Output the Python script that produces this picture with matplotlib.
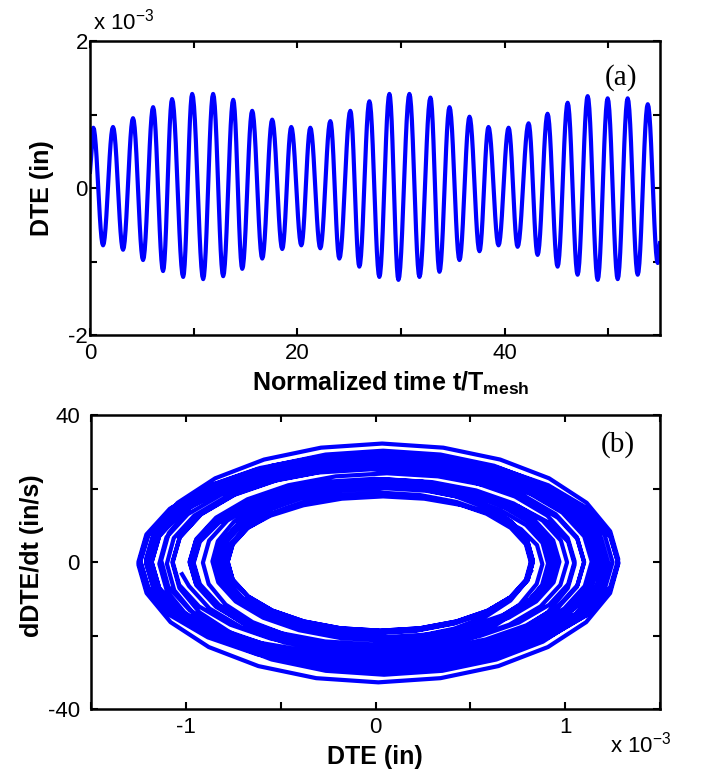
import numpy as np
import matplotlib
matplotlib.use("Agg")
import matplotlib.pyplot as plt

plt.rcParams["font.family"] = ["Liberation Sans", "DejaVu Sans"]
plt.rcParams["mathtext.fontset"] = "custom"
plt.rcParams["mathtext.rm"] = "Liberation Sans"
plt.rcParams["mathtext.bf"] = "Liberation Sans:bold"

# ---- values (DTE in units of 1e-3 in, time in t/T_mesh) ----
peak_t = [0.32, 2.22, 4.15, 6.09, 7.92, 9.86, 11.88, 13.82, 15.65, 17.58,
          19.42, 21.26, 23.19, 25.12, 26.96, 28.89, 30.82, 32.85, 34.69, 36.62,
          38.45, 40.39, 42.32, 44.15, 46.09, 48.02, 49.95, 51.88, 53.82]
peak_v = [0.82, 0.83, 0.95, 1.10, 1.21, 1.28, 1.28, 1.20, 1.05, 0.93,
          0.83, 0.82, 0.91, 1.05, 1.18, 1.28, 1.28, 1.23, 1.10, 0.97,
          0.83, 0.82, 0.88, 1.01, 1.16, 1.25, 1.22, 1.22, 1.14]
trough_t = [1.26, 3.19, 5.12, 7.05, 8.99, 10.92, 12.85, 14.69, 16.62, 18.55,
            20.39, 22.22, 24.06, 25.99, 27.92, 29.76, 31.79, 33.72, 35.65, 37.58,
            39.42, 41.26, 43.19, 45.12, 47.05, 48.99, 50.92, 52.85, 54.78]
trough_v = [-0.78, -0.84, -0.98, -1.13, -1.21, -1.24, -1.20, -1.10, -0.96, -0.83,
            -0.78, -0.82, -0.96, -1.07, -1.21, -1.25, -1.21, -1.14, -0.98, -0.86,
            -0.78, -0.80, -0.91, -1.07, -1.18, -1.25, -1.24, -1.18, -1.02]
start_t, start_v = 0.0, 0.22
end_t, end_v = 55.0, -0.75
# one half cycle (extremum -> next extremum), sampled every 15 deg
half_shape = [1.0, 0.966, 0.866, 0.707, 0.5, 0.259, 0.0,
              -0.259, -0.5, -0.707, -0.866, -0.966, -1.0]
T_MESH = 1.38e-4   # s

# ---- build the time trace from the extrema ----
ext_t = np.empty(len(peak_t) + len(trough_t))
ext_v = np.empty_like(ext_t)
ext_t[0::2], ext_t[1::2] = peak_t, trough_t
ext_v[0::2], ext_v[1::2] = peak_v, trough_v
shape = np.array(half_shape)
frac = np.arange(len(shape)) / (len(shape) - 1)
ts, vs = [], []
for t1, t2, v1, v2 in zip(ext_t[:-1], ext_t[1:], ext_v[:-1], ext_v[1:]):
    ts.append(t1 + (t2 - t1) * frac[:-1])
    vs.append((v1 + v2) / 2 + (v1 - v2) / 2 * shape[:-1])
ts.append([ext_t[-1]]); vs.append([ext_v[-1]])
t_cyc = np.concatenate(ts)
dte_cyc = np.concatenate(vs)
t_plot = np.r_[start_t, t_cyc, end_t]
dte_plot = np.r_[start_v, dte_cyc, end_v]
vel = np.gradient(dte_cyc * 1e-3, t_cyc) / T_MESH

W, H = 704, 772
fig = plt.figure(figsize=(W / 100, H / 100), dpi=100)

def ax_px(x0, y0, x1, y1):
    return fig.add_axes([x0 / W, 1 - y1 / H, (x1 - x0) / W, (y1 - y0) / H])

def style(ax, ypad):
    for s in ax.spines.values():
        s.set_linewidth(1.8)
    ax.tick_params(direction="in", length=5, width=1.5, top=True, right=True,
                   labelsize=16)
    ax.tick_params(axis="x", pad=6)
    ax.tick_params(axis="y", pad=ypad)

BLUE = "#0000FF"

# ---- (a) time trace ----
ax1 = ax_px(90, 41, 660, 335)
ax1.plot(t_plot, dte_plot, color=BLUE, lw=3.0)
ax1.set_xlim(0, 55); ax1.set_ylim(-2, 2)
ax1.set_xticks([0, 10, 20, 30, 40, 50])
ax1.set_xticklabels(["0", "", "20", "", "40", ""])
ax1.set_yticks([-2, -1, 0, 1, 2])
ax1.set_yticklabels(["-2", "", "0", "", "2"])
style(ax1, 1.5)
ax1.text(0.96, 0.875, "(a)", transform=ax1.transAxes, ha="right", va="center",
         fontsize=21, family="Liberation Serif")

# ---- (b) phase plane ----
ax2 = ax_px(91, 415, 660, 709)
ax2.plot(dte_cyc * 1e-3, vel, color=BLUE, lw=3.0)
ax2.set_xlim(-1.5e-3, 1.5e-3); ax2.set_ylim(-40, 40)
ax2.set_xticks([-1.5e-3, -1e-3, -0.5e-3, 0, 0.5e-3, 1e-3, 1.5e-3])
ax2.set_xticklabels(["", "-1", "", "0", "", "1", ""])
ax2.set_yticks([-40, -20, 0, 20, 40])
ax2.set_yticklabels(["-40", "", "0", "", "40"])
style(ax2, 8)
ax2.text(0.955, 0.9, "(b)", transform=ax2.transAxes, ha="right", va="center",
         fontsize=21, family="Liberation Serif")

# ---- labels ----
def ftext(x, y, s, **kw):
    fig.text(x / W, 1 - y / H, s, **kw)

ftext(93, 22, r"x 10$^{-3}$", fontsize=16, ha="left", va="center")
ftext(610, 745, r"x 10$^{-3}$", fontsize=16, ha="left", va="center")
ftext(391, 383, r"Normalized time t/T$_{\mathbf{mesh}}$", fontsize=18,
      fontweight="bold", ha="center", va="center")
ftext(375, 757, "DTE (in)", fontsize=18, fontweight="bold", ha="center", va="center")
ftext(42, 188, "DTE (in)", fontsize=18, fontweight="bold", ha="center", va="center",
      rotation=90)
ftext(32, 556, "dDTE/dt (in/s)", fontsize=18, fontweight="bold", ha="center",
      va="center", rotation=90)

fig.savefig("out.png", dpi=100)
